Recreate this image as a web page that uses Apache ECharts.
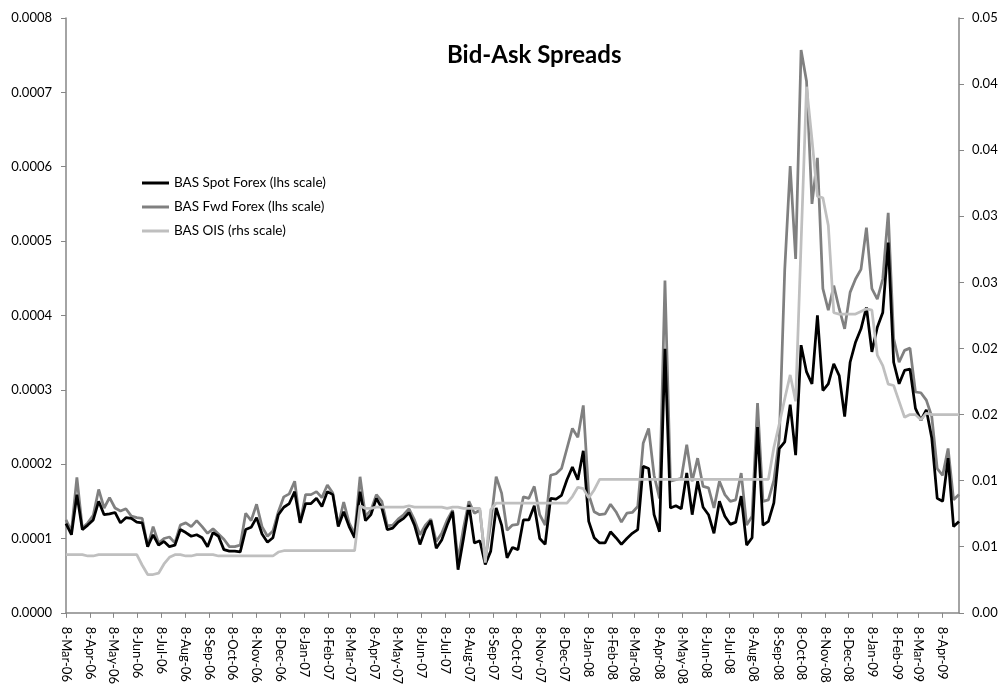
<!DOCTYPE html>
<html>
<head>
<meta charset="utf-8">
<script src="https://cdn.jsdelivr.net/npm/echarts@6/dist/echarts.min.js"></script>
<style>
html,body{margin:0;padding:0;background:#fff;}
#chart{width:1008px;height:687px;}
</style>
</head>
<body>
<div id="chart"></div>
<script>
// Weekly observations (Wednesdays) starting 8-Mar-2006
const startDate = [2006, 2, 8];
const weekStep = 7;

const spotForex = [
0.000120,0.000105,0.000159,0.000112,0.000118,0.000125,0.000150,0.000132,0.000133,0.000135,
0.000121,0.000128,0.000127,0.000122,0.000121,0.000089,0.000105,0.000091,0.000096,0.000089,
0.000091,0.000112,0.000108,0.000103,0.000105,0.000101,0.000089,0.000108,0.000103,0.000085,
0.000083,0.000083,0.000082,0.000112,0.000115,0.000128,0.000106,0.000095,0.000101,0.000132,
0.000142,0.000147,0.000163,0.000121,0.000147,0.000147,0.000154,0.000143,0.000163,0.000159,
0.000116,0.000136,0.000116,0.000101,0.000163,0.000124,0.000132,0.000154,0.000141,0.000112,
0.000114,0.000122,0.000127,0.000135,0.000118,0.000092,0.000112,0.000124,0.000087,0.000098,
0.000118,0.000136,0.000058,0.000100,0.000145,0.000094,0.000097,0.000065,0.000083,0.000141,
0.000118,0.000074,0.000088,0.000085,0.000125,0.000125,0.000144,0.000100,0.000092,0.000154,
0.000153,0.000158,0.000179,0.000196,0.000179,0.000218,0.000123,0.000101,0.000094,0.000094,
0.000109,0.000101,0.000092,0.000100,0.000107,0.000112,0.000197,0.000194,0.000132,0.000109,
0.000355,0.000141,0.000144,0.000140,0.000188,0.000132,0.000177,0.000142,0.000132,0.000107,
0.000150,0.000130,0.000119,0.000122,0.000157,0.000091,0.000101,0.000250,0.000118,0.000123,
0.000148,0.000221,0.000230,0.000280,0.000212,0.000360,0.000324,0.000308,0.000400,0.000299,
0.000308,0.000335,0.000319,0.000264,0.000337,0.000364,0.000382,0.000411,0.000351,0.000384,
0.000404,0.000498,0.000337,0.000308,0.000326,0.000328,0.000275,0.000259,0.000273,0.000235,
0.000154,0.000150,0.000208,0.000116,0.000123
];

const fwdForex = [
0.000125,0.000110,0.000182,0.000114,0.000121,0.000131,0.000166,0.000141,0.000155,0.000141,
0.000137,0.000140,0.000130,0.000128,0.000127,0.000089,0.000116,0.000094,0.000100,0.000102,
0.000094,0.000118,0.000121,0.000116,0.000124,0.000116,0.000107,0.000113,0.000106,0.000099,
0.000089,0.000089,0.000091,0.000134,0.000124,0.000146,0.000116,0.000103,0.000110,0.000136,
0.000156,0.000160,0.000177,0.000121,0.000159,0.000159,0.000163,0.000155,0.000172,0.000161,
0.000118,0.000149,0.000121,0.000106,0.000183,0.000130,0.000138,0.000159,0.000150,0.000117,
0.000118,0.000126,0.000132,0.000140,0.000125,0.000105,0.000118,0.000126,0.000096,0.000107,
0.000125,0.000138,0.000071,0.000114,0.000150,0.000134,0.000138,0.000071,0.000120,0.000183,
0.000161,0.000111,0.000118,0.000119,0.000156,0.000154,0.000170,0.000132,0.000118,0.000185,
0.000187,0.000194,0.000221,0.000248,0.000236,0.000279,0.000159,0.000136,0.000132,0.000133,
0.000146,0.000136,0.000122,0.000134,0.000135,0.000143,0.000228,0.000248,0.000185,0.000154,
0.000447,0.000177,0.000179,0.000181,0.000226,0.000177,0.000208,0.000170,0.000168,0.000141,
0.000177,0.000159,0.000150,0.000152,0.000188,0.000118,0.000130,0.000282,0.000150,0.000152,
0.000178,0.000235,0.000462,0.000601,0.000476,0.000757,0.000715,0.000550,0.000612,0.000436,
0.000407,0.000440,0.000409,0.000382,0.000431,0.000449,0.000462,0.000518,0.000436,0.000422,
0.000449,0.000538,0.000369,0.000337,0.000353,0.000356,0.000297,0.000296,0.000286,0.000264,
0.000194,0.000185,0.000221,0.000152,0.000159
];

const oisSpread = [
0.0044,0.0044,0.0044,0.0044,0.0043,0.0043,0.0044,0.0044,0.0044,0.0044,
0.0044,0.0044,0.0044,0.0044,0.0036,0.0029,0.0029,0.0030,0.0037,0.0042,
0.0044,0.0044,0.0043,0.0043,0.0044,0.0044,0.0044,0.0044,0.0043,0.0043,
0.0043,0.0043,0.0043,0.0043,0.0043,0.0043,0.0043,0.0043,0.0043,0.0046,
0.0047,0.0047,0.0047,0.0047,0.0047,0.0047,0.0047,0.0047,0.0047,0.0047,
0.0047,0.0047,0.0047,0.0047,0.0081,0.0079,0.0079,0.0080,0.0080,0.0080,
0.0080,0.0080,0.0080,0.0081,0.0080,0.0080,0.0080,0.0080,0.0080,0.0080,
0.0079,0.0080,0.0080,0.0079,0.0079,0.0079,0.0079,0.0038,0.0078,0.0083,
0.0083,0.0083,0.0083,0.0083,0.0083,0.0083,0.0083,0.0083,0.0083,0.0083,
0.0083,0.0083,0.0083,0.0088,0.0095,0.0094,0.0087,0.0093,0.0101,0.0101,
0.0101,0.0101,0.0101,0.0101,0.0101,0.0101,0.0101,0.0101,0.0101,0.0101,
0.0101,0.0101,0.0101,0.0101,0.0101,0.0101,0.0101,0.0101,0.0101,0.0101,
0.0101,0.0101,0.0101,0.0101,0.0101,0.0101,0.0101,0.0101,0.0101,0.0101,
0.0125,0.0143,0.0162,0.0180,0.0160,0.0280,0.0398,0.0358,0.0315,0.0314,
0.0293,0.0227,0.0226,0.0226,0.0226,0.0226,0.0228,0.0230,0.0229,0.0195,
0.0187,0.0173,0.0172,0.0160,0.0148,0.0150,0.0150,0.0146,0.0151,0.0150,
0.0150,0.0150,0.0150,0.0150,0.0150
];

const seriesNames = ['BAS Spot Forex (lhs scale)', 'BAS Fwd Forex (lhs scale)', 'BAS OIS (rhs scale)'];
const monthNames = ['Jan','Feb','Mar','Apr','May','Jun','Jul','Aug','Sep','Oct','Nov','Dec'];
const titleText = 'Bid-Ask Spreads';

// Daily date categories so that the monthly (8th-of-month) labels fall at true date positions
const nDays = (spotForex.length - 1) * weekStep + 1;
const dayCats = [];
for (let i = 0; i < nDays; i++) {
  const d = new Date(Date.UTC(startDate[0], startDate[1], startDate[2] + i));
  dayCats.push(d.getUTCDate() + '-' + monthNames[d.getUTCMonth()] + '-' + String(d.getUTCFullYear()).slice(2));
}
const toPairs = arr => arr.map((v, k) => [k * weekStep, v]);
const isLabelDay = (idx, val) => /^8-/.test(val);

const FONT = 'Lato';
const AXIS_COLOR = '#868686';

const chart = echarts.init(document.getElementById('chart'), null, {renderer: 'canvas'});
chart.setOption({
  animation: false,
  backgroundColor: '#ffffff',
  textStyle: {fontFamily: FONT},
  title: {
    text: titleText,
    left: 442, top: 38,
    textStyle: {fontFamily: FONT, fontSize: 24, fontWeight: 'bold', color: '#000'}
  },
  legend: {
    orient: 'vertical',
    left: 137, top: 171,
    icon: 'rect',
    itemWidth: 27, itemHeight: 3,
    itemGap: 10,
    data: seriesNames,
    textStyle: {fontFamily: FONT, fontSize: 13.5, color: '#000'}
  },
  grid: {left: 66, right: 49, top: 18, bottom: 72, containLabel: false},
  xAxis: {
    type: 'category',
    data: dayCats,
    boundaryGap: false,
    axisLine: {show: true, lineStyle: {color: AXIS_COLOR, width: 1.5}},
    axisTick: {show: true, interval: isLabelDay, length: 5, lineStyle: {color: AXIS_COLOR}},
    axisLabel: {interval: isLabelDay, rotate: -90, margin: 14, fontFamily: FONT, fontSize: 13, color: '#000'},
    splitLine: {show: false}
  },
  yAxis: [
    {
      type: 'value', min: 0, max: 0.0008, interval: 0.0001, position: 'left',
      axisLine: {show: true, lineStyle: {color: AXIS_COLOR, width: 1.5}},
      axisTick: {show: true, length: 5, lineStyle: {color: AXIS_COLOR}},
      axisLabel: {formatter: v => v.toFixed(4), margin: 14, fontFamily: FONT, fontSize: 13, color: '#000'},
      splitLine: {show: false}
    },
    {
      type: 'value', min: 0, max: 0.045, interval: 0.005, position: 'right',
      axisLine: {show: true, lineStyle: {color: AXIS_COLOR, width: 1.5}},
      axisTick: {show: true, length: 5, lineStyle: {color: AXIS_COLOR}},
      axisLabel: {formatter: v => (Math.round(v * 100 + 1e-9) / 100).toFixed(2), margin: 13, fontFamily: FONT, fontSize: 13, color: '#000'},
      splitLine: {show: false}
    }
  ],
  series: [
    {
      name: seriesNames[0], type: 'line', yAxisIndex: 0, data: toPairs(spotForex),
      showSymbol: false, symbol: 'none', z: 3,
      lineStyle: {color: '#000000', width: 2.75}, itemStyle: {color: '#000000'}
    },
    {
      name: seriesNames[1], type: 'line', yAxisIndex: 0, data: toPairs(fwdForex),
      showSymbol: false, symbol: 'none', z: 2,
      lineStyle: {color: '#808080', width: 2.75}, itemStyle: {color: '#808080'}
    },
    {
      name: seriesNames[2], type: 'line', yAxisIndex: 1, data: toPairs(oisSpread),
      showSymbol: false, symbol: 'none', z: 4,
      lineStyle: {color: '#bfbfbf', width: 2.75}, itemStyle: {color: '#bfbfbf'}
    }
  ]
});
</script>
</body>
</html>
